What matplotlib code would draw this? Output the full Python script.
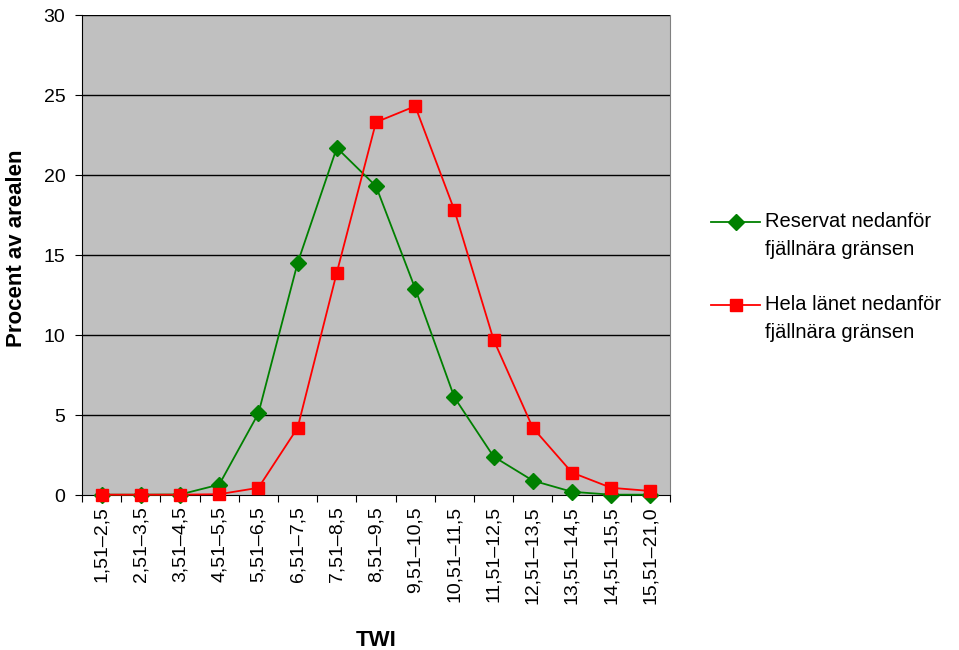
import matplotlib
matplotlib.use("Agg")
import matplotlib.pyplot as plt
from matplotlib.lines import Line2D

plt.rcParams['font.family'] = ['Liberation Sans', 'DejaVu Sans']

categories = ["1,51\u20132,5", "2,51\u20133,5", "3,51\u20134,5", "4,51\u20135,5", "5,51\u20136,5",
              "6,51\u20137,5", "7,51\u20138,5", "8,51\u20139,5", "9,51\u201310,5", "10,51\u201311,5",
              "11,51\u201312,5", "12,51\u201313,5", "13,51\u201314,5", "14,51\u201315,5", "15,51\u201321,0"]
reservat = [0.02, 0.02, 0.03, 0.65, 5.1, 14.5, 21.7, 19.3, 12.9, 6.1, 2.4, 0.9, 0.2, 0.02, 0.02]
hela = [0.02, 0.02, 0.02, 0.05, 0.45, 4.2, 13.9, 23.3, 24.3, 17.8, 9.7, 4.2, 1.4, 0.45, 0.25]
label_res = ["Reservat nedanför", "fjällnära gränsen"]
label_hela = ["Hela länet nedanför", "fjällnära gränsen"]
yticks = [0, 5, 10, 15, 20, 25, 30]

W, H = 959, 650
fig = plt.figure(figsize=(W/100, H/100), dpi=100)
ax = fig.add_axes([82/W, (H-495)/H, (670-82)/W, (495-15)/H])
ax.set_facecolor('#C0C0C0')

x = list(range(len(categories)))
ax.plot(x, reservat, color='#008000', marker='D', markersize=8, linewidth=1.3, clip_on=False, zorder=3)
ax.plot(x, hela, color='#FF0000', marker='s', markersize=8, linewidth=1.3, clip_on=False, zorder=4)

ax.set_xlim(-0.5, len(categories) - 0.5)
ax.set_ylim(0, 30)
ax.set_yticks(yticks)
ax.set_yticklabels([str(v) for v in yticks], fontsize=14)
for v in yticks[1:]:
    ax.axhline(v, color='black', linewidth=1.0, zorder=1)

ax.set_xticks([i - 0.5 for i in range(len(categories) + 1)], minor=False)
ax.set_xticklabels([])
ax.set_xticks(x, minor=True)
ax.set_xticklabels(categories, minor=True, rotation=90, fontsize=14)
ax.tick_params(axis='x', which='minor', length=0, pad=8)
ax.tick_params(axis='x', which='major', length=5, direction='out', color='black')
ax.tick_params(axis='y', length=5, direction='out', pad=7)

ax.spines['top'].set_visible(False)
ax.spines['right'].set_color('#808080')
ax.spines['left'].set_color('black')
ax.spines['bottom'].set_color('black')

fig.text(376/W, (H-640)/H, 'TWI', fontsize=16, fontweight='bold', ha='center', va='center')
fig.text(17/W, (H-248)/H, 'Procent av arealen', fontsize=16, fontweight='bold',
         ha='center', va='center', rotation=90)

# legend (manual)
for (yy, col, mk, lab) in [(222, '#008000', 'D', label_res), (305, '#FF0000', 's', label_hela)]:
    yf = (H - yy) / H
    fig.add_artist(Line2D([711/W, 760/W], [yf, yf], color=col, linewidth=1.3))
    fig.add_artist(Line2D([736/W], [yf], color=col, marker=mk, markersize=8))
    for k, line in enumerate(lab):
        fig.text(765/W, (H - (yy + 5 + 28 * k)) / H, line, fontsize=14.5, va='baseline', ha='left')

fig.savefig('out.png', dpi=100)
